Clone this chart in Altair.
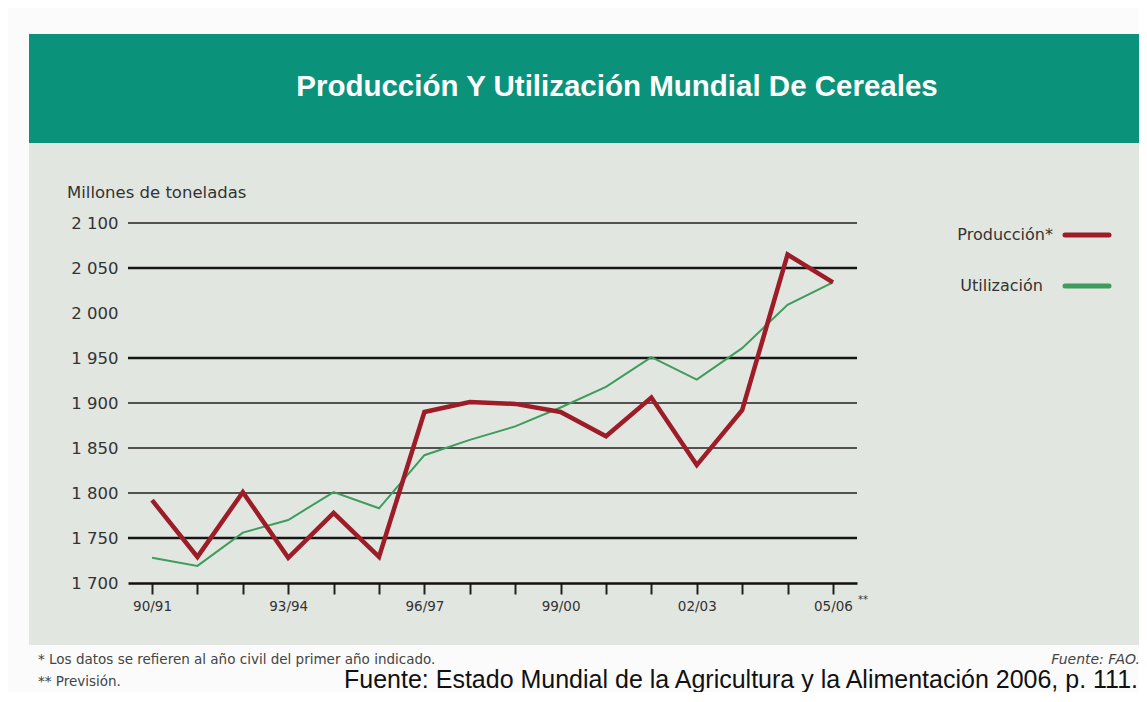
import altair as alt
import pandas as pd

# ---- data ----
years = ["90/91", "91/92", "92/93", "93/94", "94/95", "95/96", "96/97", "97/98",
         "98/99", "99/00", "00/01", "01/02", "02/03", "03/04", "04/05", "05/06"]
produccion = [1792, 1729, 1801, 1728, 1778, 1729, 1890, 1901,
              1899, 1890, 1863, 1906, 1831, 1892, 2065, 2034]
utilizacion = [1728, 1719, 1756, 1770, 1801, 1783, 1842, 1859,
               1874, 1895, 1918, 1951, 1926, 1961, 2009, 2034]
series = ["Producción*", "Utilización"]
y_ticks = [1700, 1750, 1800, 1850, 1900, 1950, 2000, 2050, 2100]
grid_thick = [1750, 1950, 2050]
grid_thin = [1800, 1850, 1900, 2100]

title_text = "Producción Y Utilización Mundial De Cereales"
y_title = "Millones de toneladas"
note1 = "* Los datos se refieren al año civil del primer año indicado."
note2 = "** Previsión."
fuente_fao = "Fuente: FAO."
fuente = "Fuente: Estado Mundial de la Agricultura y la Alimentación 2006, p. 111."

RED = "#9c1c28"
GREEN = "#3e9c5c"
TEAL = "#0b927a"
PANEL = "#e2e6e0"
FONT = "DejaVu Sans"

W, H = 729, 360

df_p = pd.DataFrame({"i": list(range(len(years))), "year": years, "v": produccion})
df_u = pd.DataFrame({"i": list(range(len(years))), "year": years, "v": utilizacion})

years_js = "[" + ",".join("'" + y + "'" for y in years) + "]"

x_enc = alt.X(
    "i:Q",
    scale=alt.Scale(domain=[-0.53, 15.53], nice=False, zero=False),
    axis=alt.Axis(
        values=list(range(len(years))),
        labelExpr=f"datum.value % 3 == 0 ? {years_js}[datum.value] : ''",
        tickSize=11, tickWidth=2, tickColor="#222222",
        domainColor="#111111", domainWidth=2.5,
        grid=False, title=None, labelFontSize=13.5, labelColor="#333333",
        labelFont=FONT, labelPadding=5, zindex=1,
    ),
)
y_enc = alt.Y(
    "v:Q",
    scale=alt.Scale(domain=[1700, 2100], nice=False, zero=False),
    axis=alt.Axis(
        values=y_ticks,
        labelExpr="replace(format(datum.value, ','), ',', ' ')",
        grid=False, domain=False, ticks=False, title=None,
        labelFontSize=16.5, labelColor="#333333", labelFont=FONT,
        labelPadding=10, zindex=1,
    ),
)


def txt(t, x, y, **kw):
    return alt.Chart(pd.DataFrame({"t": [t]})).mark_text(**kw).encode(
        text="t:N", x=alt.value(x), y=alt.value(y))


one = pd.DataFrame({"a": [0]})

header = alt.Chart(one).mark_rect(color=TEAL).encode(
    x=alt.value(-99), x2=alt.value(1012), y=alt.value(-189), y2=alt.value(-80))
panel = alt.Chart(one).mark_rect(color=PANEL).encode(
    x=alt.value(-99), x2=alt.value(1012), y=alt.value(-80), y2=alt.value(422))

g_thick = alt.Chart(pd.DataFrame({"v": grid_thick})).mark_rule(
    color="#151515", strokeWidth=2.6).encode(y=alt.Y("v:Q", scale=alt.Scale(domain=[1700, 2100])))
g_thin = alt.Chart(pd.DataFrame({"v": grid_thin})).mark_rule(
    color="#222222", strokeWidth=1.4).encode(y=alt.Y("v:Q", scale=alt.Scale(domain=[1700, 2100])))

line_u = alt.Chart(df_u).mark_line(color=GREEN, strokeWidth=2).encode(x=x_enc, y=y_enc)
line_p = alt.Chart(df_p).mark_line(color=RED, strokeWidth=4.5, strokeJoin="miter").encode(x=x_enc, y=y_enc)

leg_p_line = alt.Chart(one).mark_rule(color=RED, strokeWidth=5, strokeCap="round").encode(
    x=alt.value(937), x2=alt.value(981), y=alt.value(12))
leg_u_line = alt.Chart(one).mark_rule(color=GREEN, strokeWidth=5, strokeCap="round").encode(
    x=alt.value(937), x2=alt.value(981), y=alt.value(63))

layers = [
    header, panel, g_thin, g_thick, line_u, line_p,
    leg_p_line, leg_u_line,
    txt(series[0], 925, 12, align="right", baseline="middle", font=FONT, fontSize=16, color="#333333"),
    txt(series[1], 915, 63, align="right", baseline="middle", font=FONT, fontSize=16, color="#333333"),
    txt(title_text, 489, -136, align="center", baseline="middle", font="Liberation Sans",
        fontWeight="bold", fontSize=29.5, color="white"),
    txt(y_title, -61, -30, align="left", baseline="middle", font=FONT, fontSize=16.5, color="#333333"),
    txt("**", 730, 17 + H, align="left", baseline="middle", font=FONT, fontSize=10, color="#333333"),
    txt(note1, -90, 437, align="left", baseline="middle", font=FONT, fontSize=13.5, color="#444444"),
    txt(note2, -90, 459, align="left", baseline="middle", font=FONT, fontSize=13.5, color="#444444"),
    txt(fuente_fao, 1012, 437, align="right", baseline="middle", font=FONT, fontSize=14,
        fontStyle="italic", color="#444444"),
    txt(fuente, 1010, 457, align="right", baseline="middle", font="Liberation Sans",
        fontSize=25, color="#111111"),
]

chart = alt.layer(*layers).properties(
    width=W, height=H,
    autosize=alt.AutoSizeParams(type="none"),
    padding={"left": 120, "top": 215, "right": 282, "bottom": 109},
    background="#fbfbfb",
).configure_view(stroke=None)

chart.save("out.html", embed_options={"renderer": "svg", "actions": False})
